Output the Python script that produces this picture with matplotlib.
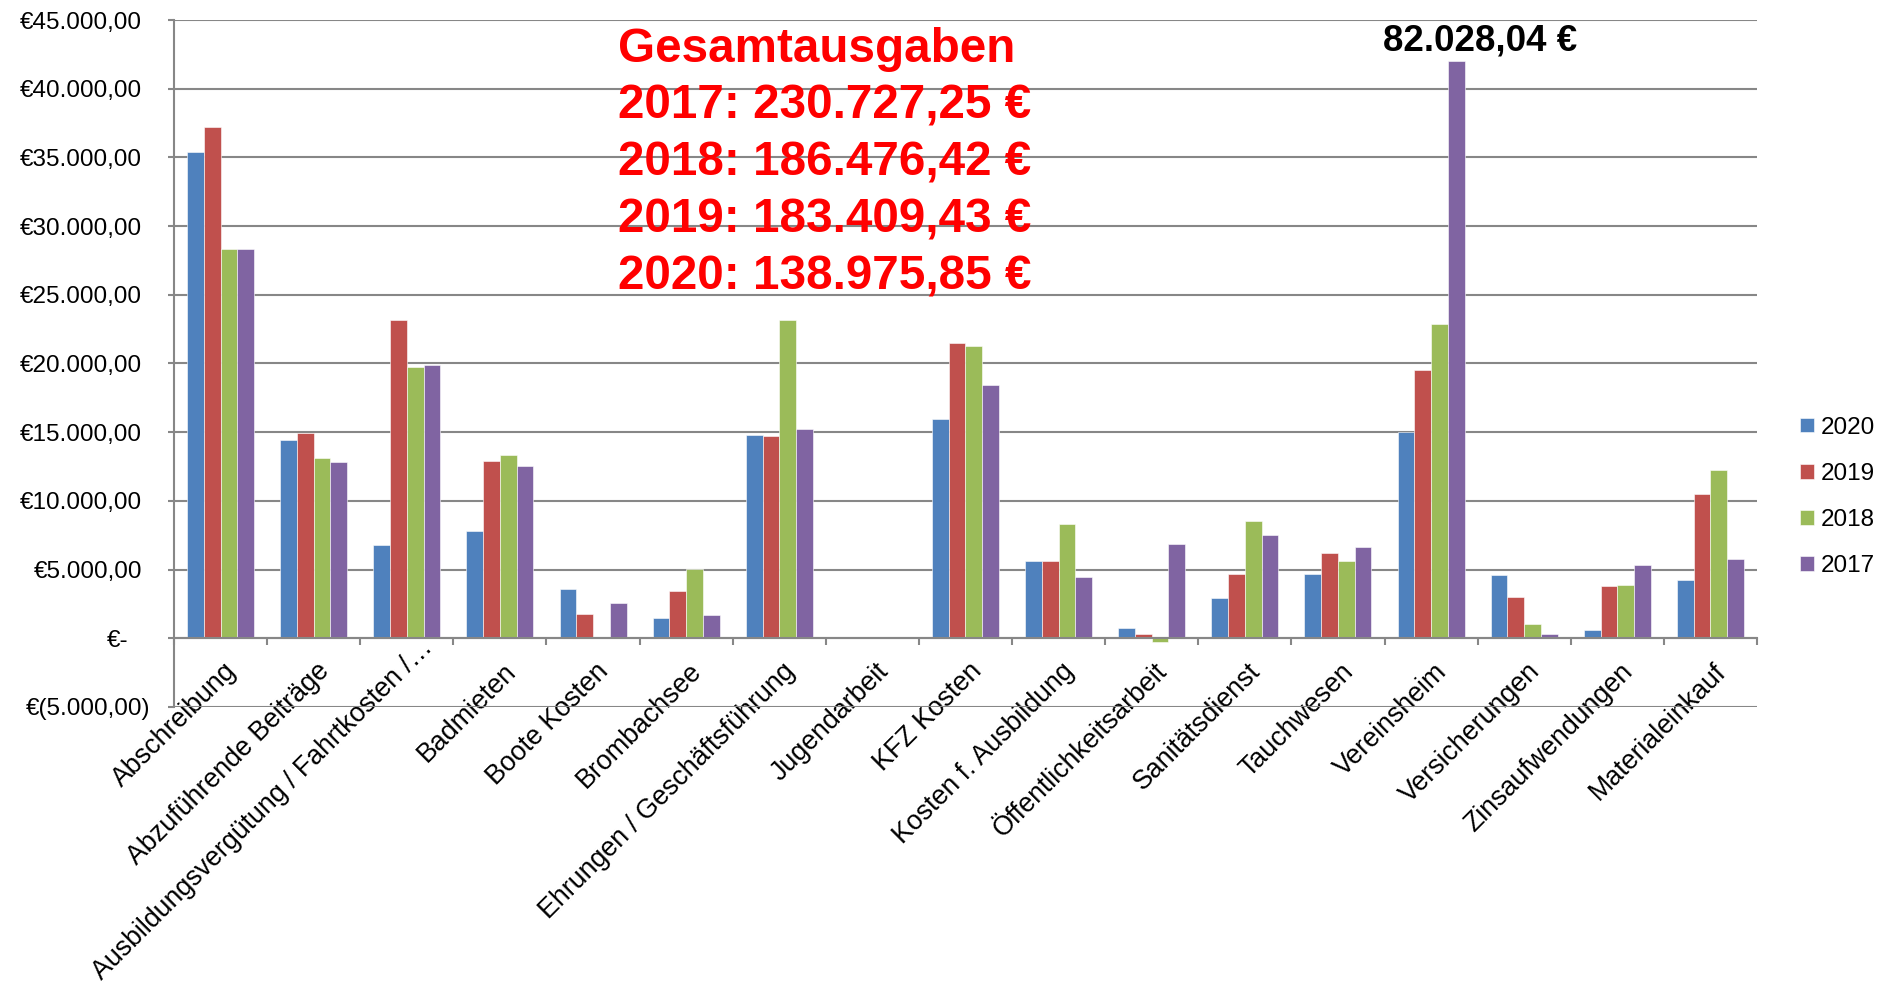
import numpy as np
import matplotlib
matplotlib.use("Agg")
import matplotlib.pyplot as plt
from matplotlib.ticker import FixedLocator
from matplotlib.transforms import ScaledTranslation

plt.rcParams['font.family'] = ['Liberation Sans', 'DejaVu Sans']

# ---------------- data ----------------
categories = [
    "Abschreibung", "Abzuführende Beiträge", "Ausbildungsvergütung / Fahrtkosten /…",
    "Badmieten", "Boote Kosten", "Brombachsee", "Ehrungen / Geschäftsführung",
    "Jugendarbeit", "KFZ Kosten", "Kosten f. Ausbildung", "Öffentlichkeitsarbeit",
    "Sanitätsdienst", "Tauchwesen", "Vereinsheim", "Versicherungen",
    "Zinsaufwendungen", "Materialeinkauf",
]
series_names = ["2020", "2019", "2018", "2017"]
v2020 = [35400, 14420, 6820, 7790, 3570, 1500, 14800, 0, 15970, 5610, 780, 2960, 4680, 15000, 4610, 630, 4250]
v2019 = [37200, 14930, 23130, 12910, 1750, 3420, 14730, 0, 21460, 5610, 340, 4710, 6190, 19520, 3030, 3840, 10530]
v2018 = [28350, 13150, 19740, 13370, 100, 5050, 23130, 0, 21260, 8300, -300, 8540, 5610, 22870, 1070, 3880, 12260]
v2017 = [28300, 12810, 19860, 12550, 2570, 1700, 15240, 100, 18400, 4490, 6840, 7520, 6670, 82028.04, 320, 5360, 5800]
series_values = [v2020, v2019, v2018, v2017]
series_colors = ["#4F81BD", "#C0504D", "#9BBB59", "#8064A2"]

ytick_values = [-5000, 0, 5000, 10000, 15000, 20000, 25000, 30000, 35000, 40000, 45000]
ytick_labels = ["€(5.000,00)", "€-", "€5.000,00", "€10.000,00", "€15.000,00", "€20.000,00",
                "€25.000,00", "€30.000,00", "€35.000,00", "€40.000,00", "€45.000,00"]

total_title = "Gesamtausgaben"
total_years = ["2017", "2018", "2019", "2020"]
total_values = [230727.25, 186476.42, 183409.43, 138975.85]

display_cap = 42050  # the outlier bar is drawn truncated


def fmt_eur(v):
    s = f"{v:,.2f}".replace(",", "X").replace(".", ",").replace("X", ".")
    return s + " €"


# ---------------- figure ----------------
W, H = 1883, 983
fig = plt.figure(figsize=(W / 100, H / 100), dpi=100)
ax = fig.add_axes([174 / W, 1 - 707 / H, (1757 - 174) / W, (707 - 20) / H])

n = len(categories)
x = np.arange(n)
bw = 0.18
grid_c = "#878787"

for i, (vals, name, col) in enumerate(zip(series_values, series_names, series_colors)):
    vals_d = np.minimum(np.array(vals, dtype=float), display_cap)
    ax.bar(x + (i - 1.5) * bw, vals_d, width=bw, color=col, label=name,
           edgecolor="white", linewidth=0.4, zorder=3)

ax.set_xlim(-0.5, n - 0.5)
ax.set_ylim(-5000, 45000)

# grid
ax.yaxis.set_major_locator(FixedLocator(ytick_values))
ax.set_yticklabels(ytick_labels)
ax.grid(axis="y", color=grid_c, linewidth=1.5, zorder=0)
ax.set_axisbelow(True)

for s in ["top", "right"]:
    ax.spines[s].set_visible(False)
ax.spines["left"].set_color(grid_c)
ax.spines["left"].set_linewidth(1.5)
ax.spines["bottom"].set_position(("data", 0))
ax.spines["bottom"].set_color(grid_c)
ax.spines["bottom"].set_linewidth(1.5)
ax.spines["bottom"].set_zorder(4)

ax.tick_params(axis="y", direction="out", length=4.5, width=1.5, color=grid_c,
               labelsize=17.5, pad=18.5)
# x ticks: labels at centers, tick marks at boundaries
ax.set_xticks(x)
ax.set_xticklabels(categories, rotation=45, ha="right", va="center",
                   rotation_mode="anchor", fontsize=19.3)
ax.tick_params(axis="x", which="major", length=0, pad=21.1)
ax.set_xticks(np.arange(-0.5, n, 1.0), minor=True)
ax.tick_params(axis="x", which="minor", direction="out", length=5, width=1.5, color=grid_c)

for lab in ax.get_xticklabels():
    if lab.get_text().endswith("…"):
        off = ScaledTranslation(22 / 100, 24 / 100, fig.dpi_scale_trans)
    else:
        off = ScaledTranslation(12 / 100, 0, fig.dpi_scale_trans)
    lab.set_transform(lab.get_transform() + off)

for lab in ax.get_yticklabels():
    t = lab.get_text()
    if t.startswith("€("):
        lab.set_transform(lab.get_transform() + ScaledTranslation(8 / 100, 0, fig.dpi_scale_trans))
    elif t == "€-":
        lab.set_transform(lab.get_transform() + ScaledTranslation(-14 / 100, 0, fig.dpi_scale_trans))

# outlier annotation
idx_out = int(np.argmax(v2017))
ax.annotate(fmt_eur(v2017[idx_out]), xy=(x[idx_out] + 1.5 * bw, display_cap),
            xytext=(24, 20), textcoords="offset pixels", ha="center", va="center",
            fontsize=26.5, fontweight="bold", color="black")

# totals text block
lines = [total_title] + [f"{y}: {fmt_eur(v)}" for y, v in zip(total_years, total_values)]
for i, line in enumerate(lines):
    fig.text(618 / W, 1 - (49 + i * 57) / H, line, ha="left", va="center",
             fontsize=34.3, fontweight="bold", color="#FF0000")

# legend
fig.legend(loc="center left", bbox_to_anchor=(1800 / W, 1 - 497 / H), frameon=False,
           fontsize=17.5, handlelength=0.58, handleheight=0.53, handletextpad=0.29,
           labelspacing=0.99, borderpad=0, borderaxespad=0)

fig.savefig("out.png", dpi=100)
